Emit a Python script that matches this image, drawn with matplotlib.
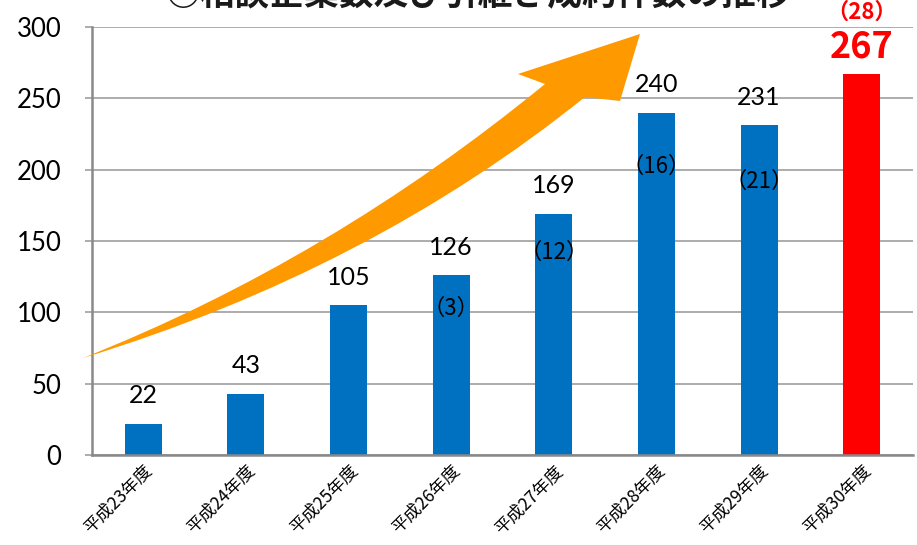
import matplotlib
matplotlib.use('Agg')
import matplotlib.pyplot as plt
from matplotlib.path import Path
from matplotlib.patches import PathPatch

# データ
years = ['平成23年度', '平成24年度', '平成25年度', '平成26年度',
         '平成27年度', '平成28年度', '平成29年度', '平成30年度']
counts = [22, 43, 105, 126, 169, 240, 231, 267]
contracts = [None, None, None, 3, 12, 16, 21, 28]
title = '○相談企業数及び引継ぎ成約件数の推移'

jp = 'Noto Sans CJK JP'
num = 'Lato'

fig = plt.figure(figsize=(9.17, 5.45), dpi=100)
ax = fig.add_axes([92 / 917, 90 / 545, 821 / 917, 428 / 545])

colors = ['#0070C0'] * (len(counts) - 1) + ['#FF0000']
x = range(len(counts))
ax.bar(x, counts, width=0.36, color=colors, zorder=2)

ax.set_xlim(-0.5, len(counts) - 0.5)
ax.set_ylim(0, 300)
ax.set_yticks(range(0, 301, 50))
ax.yaxis.grid(True, color='#A6A6A6', linewidth=1.3, zorder=0)
ax.set_axisbelow(True)
for s in ['top', 'right']:
    ax.spines[s].set_visible(False)
for s in ['left', 'bottom']:
    ax.spines[s].set_color('#898989')
    ax.spines[s].set_linewidth(1.8)
ax.tick_params(axis='y', length=5, color='#A6A6A6', width=1.3, pad=17,
               labelsize=18.5)
for lab in ax.get_yticklabels():
    lab.set_fontfamily(num)
ax.set_xticks(list(x))
ax.set_xticklabels(years, rotation=45, ha='right', va='top',
                   rotation_mode='anchor', fontfamily=jp, fontsize=12.5)
ax.tick_params(axis='x', length=0, pad=5)

# 値ラベル
for i, v in enumerate(counts[:-1]):
    ax.annotate(str(v), (i, v), xytext=(0, 12), textcoords='offset points',
                ha='center', va='bottom', fontsize=18, fontfamily=num)
last = len(counts) - 1
ax.annotate(str(counts[-1]), (last, counts[-1]), xytext=(0, 6),
            textcoords='offset points', ha='center', va='bottom',
            fontsize=26, fontweight='bold', color='#FF0000', fontfamily=jp)
ax.annotate(f'（{contracts[-1]}）', (last, counts[-1]), xytext=(0, 36),
            textcoords='offset points', ha='center', va='bottom',
            fontsize=16, fontweight='bold', color='#FF0000', fontfamily=jp,
            annotation_clip=False)

# 成約件数（棒の中）
paren_offsets = [0, 0, 0, 24, 28, 39, 40]
for i in range(len(counts) - 1):
    c = contracts[i]
    if c is None:
        continue
    ax.annotate(f'（{c}）', (i, counts[i]), xytext=(0, -paren_offsets[i]),
                textcoords='offset points', ha='center', va='center',
                fontsize=16, fontfamily=jp, zorder=3)


# 矢印 (ピクセル座標 -> 軸座標)
def px(xp, yp):
    return ((xp - 92) / 821, (455 - yp) / 428)


body = [px(83, 358), px(330, 260), px(545, 84),
        px(518, 74), px(640, 34), px(620, 101), px(585, 97),
        px(370, 270), px(83, 358)]
codes = [Path.MOVETO, Path.CURVE3, Path.CURVE3,
         Path.LINETO, Path.LINETO, Path.LINETO, Path.LINETO,
         Path.CURVE3, Path.CURVE3]
arrow = PathPatch(Path(body, codes), facecolor='#FF9900', edgecolor='none',
                  transform=ax.transAxes, clip_on=False, zorder=4)
ax.add_patch(arrow)

fig.text(478 / 917, 0.99, title, ha='center', va='baseline', fontsize=25,
         fontweight='bold', fontfamily=jp, color='#1a1a1a')

fig.savefig('out.png', dpi=100)
